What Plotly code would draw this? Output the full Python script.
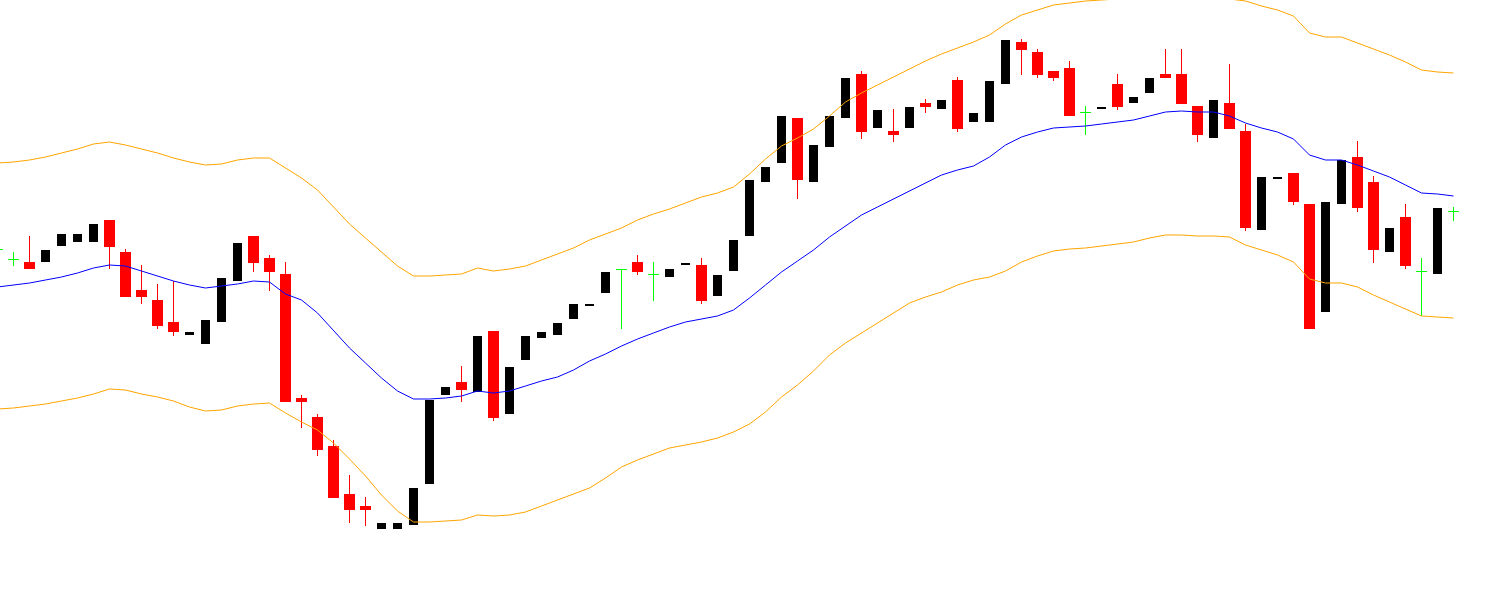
import plotly.graph_objects as go

# ---- data (price units) ----
bar_index = list(range(92))

open_ = [366, 356, 353, 353, 369, 373, 373, 395, 363, 325,
         315, 293, 280, 271, 293, 334, 379, 357, 341, 217,
         198, 169, 121, 109, 86, 86, 90, 131, 220, 233,
         223, 284, 201, 255, 277, 280, 296, 309, 322, 346,
         353, 341, 338, 350, 350, 319, 344, 379, 433, 452,
         497, 433, 468, 497, 541, 487, 484, 487, 512, 506,
         535, 493, 493, 531, 573, 563, 544, 547, 503, 506,
         531, 512, 522, 541, 541, 509, 477, 512, 484, 385,
         436, 442, 411, 303, 411, 458, 433, 363, 398, 344,
         341, 404]

close = [366, 356, 346, 365, 381, 381, 391, 368, 318, 318,
         289, 283, 283, 295, 337, 372, 352, 343, 213, 213,
         165, 117, 105, 105, 92, 92, 127, 215, 228, 225,
         279, 197, 248, 279, 283, 292, 311, 311, 343, 346,
         343, 341, 346, 352, 314, 340, 375, 435, 448, 499,
         435, 470, 499, 537, 483, 505, 480, 508, 508, 515,
         486, 502, 534, 575, 565, 540, 537, 499, 503, 508,
         508, 518, 537, 537, 511, 480, 515, 486, 387, 438,
         438, 413, 286, 413, 455, 407, 365, 387, 349, 344,
         407, 404]

high = [370, 363, 379, 365, 381, 381, 391, 395, 366, 350,
        331, 334, 283, 295, 337, 372, 379, 360, 353, 220,
        201, 175, 140, 118, 92, 92, 127, 215, 228, 249,
        279, 284, 248, 279, 283, 292, 311, 311, 343, 346,
        360, 353, 346, 352, 357, 340, 375, 435, 448, 499,
        497, 470, 499, 537, 544, 505, 506, 508, 516, 515,
        538, 502, 534, 575, 576, 566, 544, 554, 509, 508,
        541, 518, 537, 566, 566, 509, 515, 551, 491, 438,
        438, 442, 411, 413, 455, 474, 439, 387, 411, 357,
        407, 408]

low = [362, 349, 346, 353, 369, 373, 373, 346, 318, 311,
       286, 279, 280, 271, 293, 334, 343, 324, 213, 187,
       159, 117, 92, 89, 86, 86, 90, 131, 220, 213,
       223, 194, 201, 255, 277, 280, 296, 309, 322, 286,
       340, 314, 338, 350, 311, 319, 344, 379, 433, 452,
       416, 433, 468, 497, 476, 487, 473, 487, 502, 506,
       483, 493, 493, 531, 540, 537, 534, 499, 480, 506,
       505, 512, 522, 537, 511, 473, 477, 486, 384, 385,
       436, 410, 286, 303, 411, 403, 352, 363, 346, 299,
       341, 394]

band_middle = [328, 330, 332, 335, 338, 342, 347, 350, 349, 344,
               339, 334, 330, 327, 329, 331, 334, 333, 321, 315,
               302, 285, 267, 252, 237, 224, 216, 216, 217, 219,
               224, 222, 224, 229, 234, 238, 245, 254, 261, 269,
               276, 282, 288, 293, 296, 299, 305, 317, 330, 343,
               354, 365, 378, 389, 400, 408, 416, 424, 432, 440,
               445, 449, 458, 470, 478, 483, 487, 488, 489, 491,
               493, 495, 499, 503, 504, 503, 503, 499, 492, 487,
               483, 476, 460, 455, 455, 450, 444, 438, 430, 422,
               421, 419]

band_upper = [452, 453, 455, 458, 462, 466, 471, 473, 470, 466,
              462, 457, 453, 450, 451, 455, 457, 457, 447, 437,
              425, 408, 391, 377, 363, 349, 339, 339, 340, 341,
              347, 344, 346, 349, 355, 361, 367, 375, 381, 387,
              395, 401, 406, 412, 418, 422, 428, 441, 456, 469,
              477, 486, 499, 513, 522, 530, 538, 546, 554, 561,
              567, 573, 580, 591, 600, 605, 610, 612, 614, 615,
              616, 618, 619, 619, 619, 618, 617, 616, 614, 609,
              605, 599, 582, 578, 578, 572, 566, 560, 553, 545,
              543, 542]

band_lower = [206, 207, 209, 211, 214, 217, 221, 226, 225, 221,
              218, 214, 208, 204, 205, 209, 211, 212, 202, 193,
              185, 172, 156, 139, 120, 104, 93, 93, 94, 95,
              100, 99, 100, 103, 109, 115, 121, 127, 137, 148,
              155, 161, 167, 170, 173, 177, 183, 191, 203, 218,
              230, 244, 260, 272, 282, 292, 302, 312, 318, 323,
              330, 335, 338, 344, 353, 359, 364, 366, 367, 369,
              371, 373, 377, 380, 380, 379, 379, 378, 370, 365,
              360, 353, 336, 332, 332, 328, 320, 313, 306, 299,
              298, 297]

# ---- styles ----
BEAR = "#FF0000"
BULL = "#000000"
DOJI = "#00FF00"
UPPER_LOWER = "#FFA500"
MIDDLE = "#0000FF"
SLOT_PX = 16.0
BEAR_W = 11 / SLOT_PX
BULL_W = 9 / SLOT_PX
DOJI_HALF = 5.5 / SLOT_PX
PIXEL_SNAP = 0.5  # keep 1px horizontal doji strokes on a pixel row

bear = [i for i in bar_index if close[i] < open_[i]]
bull = [i for i in bar_index if close[i] > open_[i]]
doji = [i for i in bar_index if close[i] == open_[i]]


def wick_xy(ids):
    xs, ys = [], []
    for i in ids:
        xs += [i, i, None]
        ys += [high[i], low[i], None]
    return xs, ys


fig = go.Figure()

# wicks
for ids, col in ((bear, BEAR), (bull, BULL), (doji, DOJI)):
    wx, wy = wick_xy(ids)
    fig.add_trace(go.Scatter(x=wx, y=wy, mode="lines",
                             line=dict(color=col, width=1),
                             hoverinfo="skip", showlegend=False))

# doji horizontal ticks
dx, dy = [], []
for i in doji:
    dx += [i - DOJI_HALF, i + DOJI_HALF, None]
    dy += [open_[i] - PIXEL_SNAP, open_[i] - PIXEL_SNAP, None]
fig.add_trace(go.Scatter(x=dx, y=dy, mode="lines",
                         line=dict(color=DOJI, width=1),
                         hoverinfo="skip", showlegend=False))

# bodies
fig.add_trace(go.Bar(x=bear,
                     y=[open_[i] - close[i] for i in bear],
                     base=[close[i] for i in bear],
                     width=BEAR_W,
                     marker=dict(color=BEAR, line=dict(width=0)),
                     showlegend=False))
fig.add_trace(go.Bar(x=bull,
                     y=[close[i] - open_[i] for i in bull],
                     base=[open_[i] for i in bull],
                     width=BULL_W,
                     marker=dict(color=BULL, line=dict(width=0)),
                     showlegend=False))

# Bollinger bands
fig.add_trace(go.Scatter(x=bar_index, y=band_upper, mode="lines",
                         line=dict(color=UPPER_LOWER, width=1),
                         showlegend=False))
fig.add_trace(go.Scatter(x=bar_index, y=band_lower, mode="lines",
                         line=dict(color=UPPER_LOWER, width=1),
                         showlegend=False))
fig.add_trace(go.Scatter(x=bar_index, y=band_middle, mode="lines",
                         line=dict(color=MIDDLE, width=1),
                         showlegend=False))

x0 = 2.5 / SLOT_PX
fig.update_layout(
    width=1507, height=615,
    margin=dict(l=0, r=0, t=0, b=0),
    paper_bgcolor="white", plot_bgcolor="white",
    barmode="overlay", bargap=0,
    showlegend=False,
    xaxis=dict(range=[x0, x0 + 1507 / SLOT_PX], visible=False,
               showgrid=False, zeroline=False, fixedrange=True),
    yaxis=dict(range=[0, 615], visible=False,
               showgrid=False, zeroline=False, fixedrange=True),
)

fig.write_html("out.html", config={"displayModeBar": False},
               post_script="document.body.style.margin='0';"
                           "document.body.style.overflow='hidden';")
